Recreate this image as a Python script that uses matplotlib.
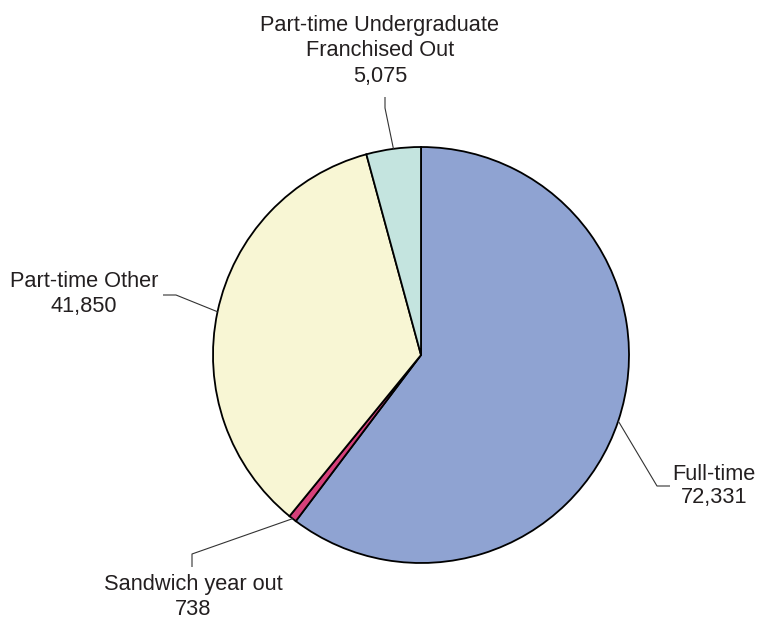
import numpy as np
import matplotlib
matplotlib.use("Agg")
import matplotlib.pyplot as plt

# data, clockwise from 12 o'clock
labels = ["Full-time", "Sandwich year out", "Part-time Other",
          "Part-time Undergraduate\nFranchised Out"]
values = [72331, 738, 41850, 5075]
colors = ["#8FA3D2", "#D6407A", "#F8F6D4", "#C4E4DF"]

W, H = 759, 622
CX, CY, R = 421, 355, 208   # pie centre / radius in pixels

def px(x, y):
    # pixel position (from top-left) -> data coords of the pie axes
    return (x - CX) / R, (CY - y) / R

# label layout in pixels: elbow, end of leader, text centre, line spacing
layout = [
    ((657, 486), (670, 486), (714, 486), 1.17),
    ((192, 554), (192, 567), (193, 597), 1.2),
    ((176, 295), (163, 295), (84, 294), 1.2),
    ((385, 108), (385, 97), (380, 51), 1.27),
]

plt.rcParams['font.family'] = ['Liberation Sans', 'DejaVu Sans']

fig = plt.figure(figsize=(W / 100, H / 100), dpi=100)
ax = fig.add_axes([0, 0, 1, 1])

wedges, _ = ax.pie(values, colors=colors, startangle=90, counterclock=False,
                   radius=1.0, wedgeprops=dict(edgecolor="black", linewidth=1.3))

ax.set_aspect("auto")
ax.set_xlim(-CX / R, (W - CX) / R)
ax.set_ylim((CY - H) / R, CY / R)
ax.axis("off")

for w, lab, v, (elbow, end, txt, ls) in zip(wedges, labels, values, layout):
    mid = np.deg2rad((w.theta1 + w.theta2) / 2)
    x0, y0 = np.cos(mid), np.sin(mid)
    x1, y1 = px(*elbow)
    x2, y2 = px(*end)
    ax.plot([x0, x1, x2], [y0, y1, y2], color="#333333", lw=0.8,
            solid_capstyle="butt")
    tx, ty = px(*txt)
    ax.text(tx, ty, "%s\n%s" % (lab, format(v, ",")), ha="center", va="center",
            fontsize=15.7, color="#231F20", linespacing=ls)

fig.savefig("out.png", dpi=100)
